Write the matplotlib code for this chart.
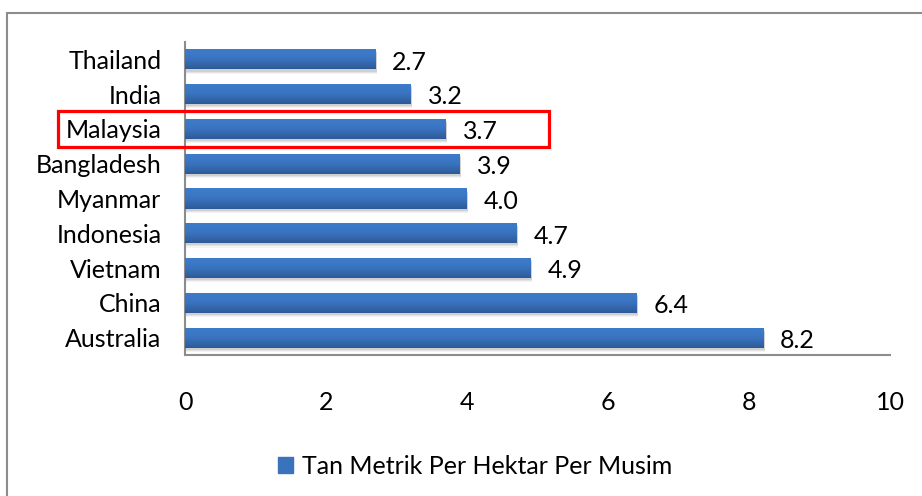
import matplotlib.pyplot as plt
from matplotlib.patches import Rectangle
from matplotlib.colors import LinearSegmentedColormap
import numpy as np

countries = ['Thailand', 'India', 'Malaysia', 'Bangladesh', 'Myanmar',
             'Indonesia', 'Vietnam', 'China', 'Australia']
yields = [2.7, 3.2, 3.7, 3.9, 4.0, 4.7, 4.9, 6.4, 8.2]
xticks = [0, 2, 4, 6, 8, 10]
series_name = 'Tan Metrik Per Hektar Per Musim'

plt.rcParams['font.family'] = ['Lato', 'DejaVu Sans']

fig = plt.figure(figsize=(9.22, 4.96), dpi=100)
ax = fig.add_axes([0.2007, 0.2843, 0.7646, 0.631])

y = np.arange(len(countries))

# soft shadow under each bar
for k, a in enumerate([0.25, 0.18, 0.1]):
    ax.barh(y + 0.06 + 0.03 * k, yields, height=0.58, left=0.02, color='#9a9a9a',
            alpha=a, linewidth=0, zorder=1)
bars = ax.barh(y, yields, height=0.58, color='#3a72bb', zorder=2)

# vertical gradient inside each bar
cmap = LinearSegmentedColormap.from_list('g', ['#3d7dcb', '#3a74c0', '#2d5a96'])
grad = np.linspace(0, 1, 64).reshape(-1, 1)
for b in bars:
    im = ax.imshow(grad, cmap=cmap,
                   extent=[b.get_x(), b.get_x() + b.get_width(),
                           b.get_y() + b.get_height(), b.get_y()],
                   origin='upper', aspect='auto', zorder=3)
    im.set_clip_path(b)

for yi, v in zip(y, yields):
    ax.text(v + 0.24, yi + 0.08, f'{v:.1f}', va='center', ha='left', fontsize=18)

ax.set_xlim(0, 10)
ax.set_ylim(len(countries) - 0.5, -0.5)
ax.set_yticks(y)
ax.set_yticklabels(countries)
ax.set_xticks(xticks)
ax.tick_params(axis='both', length=0, labelsize=18)
ax.tick_params(axis='x', pad=26)
ax.tick_params(axis='y', pad=17)
for s in ['top', 'right']:
    ax.spines[s].set_visible(False)
for s in ['left', 'bottom']:
    ax.spines[s].set_color('#8c8c8c')
    ax.spines[s].set_linewidth(1.5)

fig.legend([Rectangle((0, 0), 1, 1, color='#3a72bb')], [series_name],
           loc='center', bbox_to_anchor=(0.515, 0.06), frameon=False,
           fontsize=18, handlelength=0.6, handleheight=0.6, handletextpad=0.35)

# highlight box around Malaysia
fig.patches.append(Rectangle((0.0629, 0.7036), 0.5325, 0.0724, transform=fig.transFigure,
                             fill=False, edgecolor='#ff0000', linewidth=2.3))
# outer chart frame
fig.patches.append(Rectangle((0.0076, -0.05), 1.05, 0.9738 + 0.05, transform=fig.transFigure,
                             fill=False, edgecolor='#8c8c8c', linewidth=1.5))

fig.savefig('out.png', dpi=100)
